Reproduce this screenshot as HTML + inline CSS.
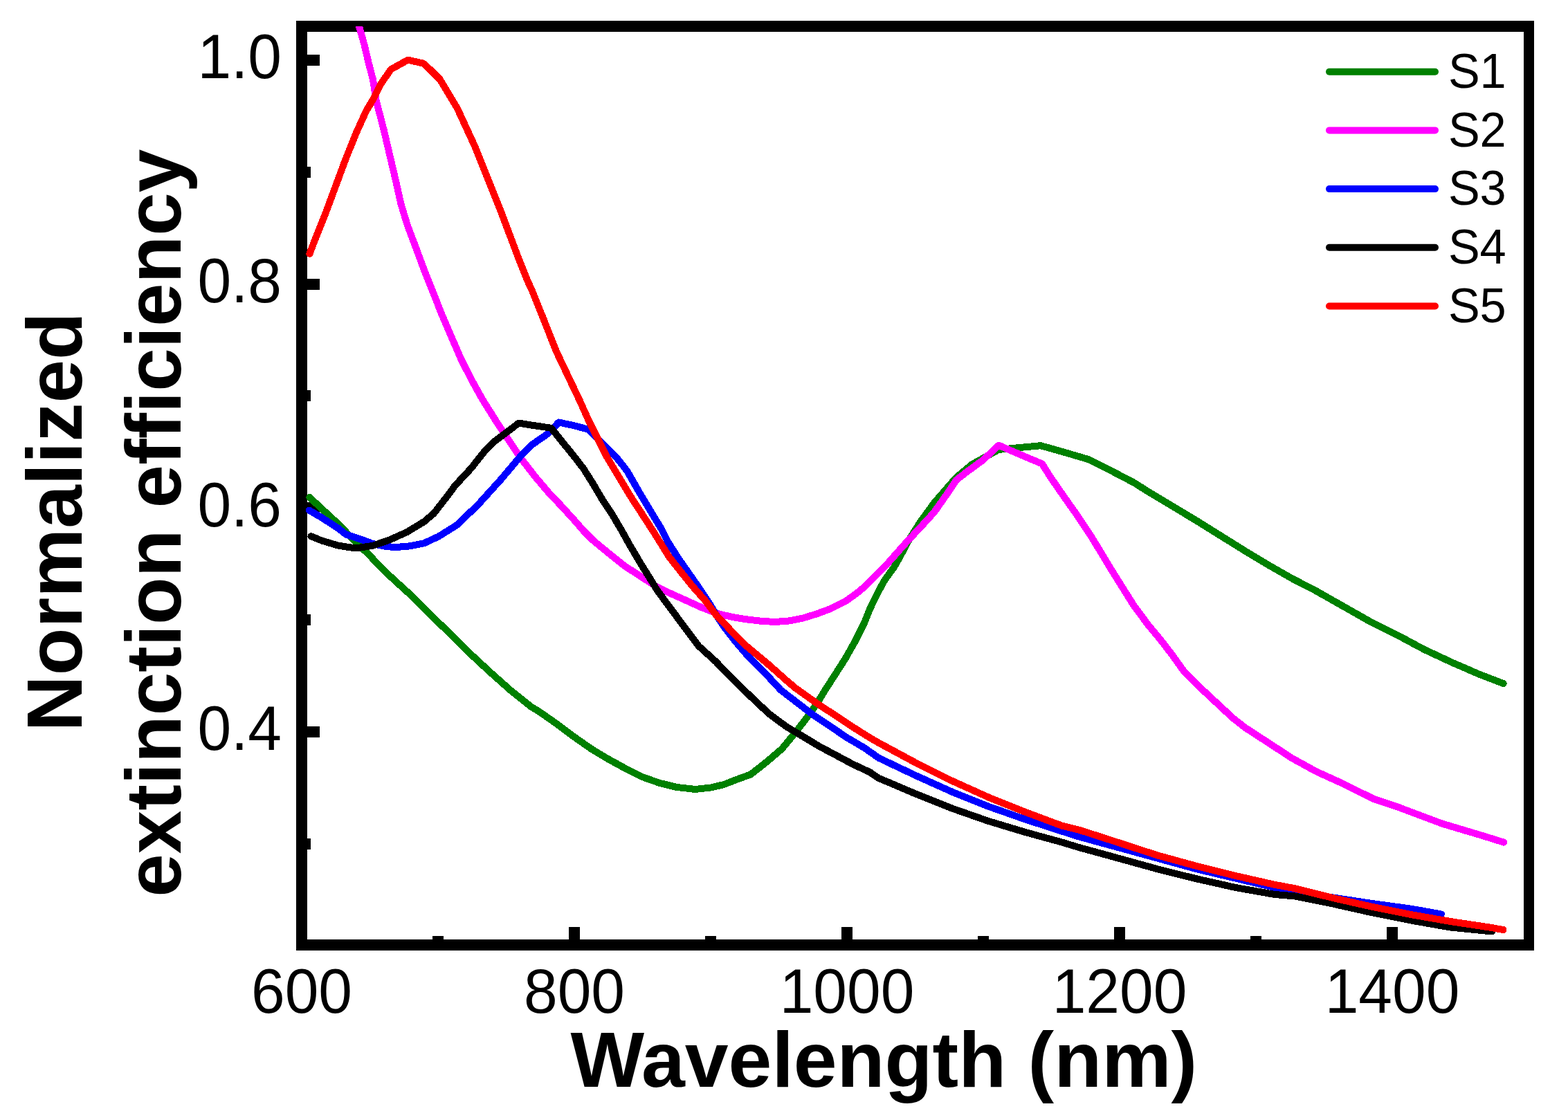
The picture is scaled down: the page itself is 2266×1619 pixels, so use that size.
<!DOCTYPE html>
<html><head><meta charset="utf-8"><title>Normalized extinction efficiency</title>
<style>
html,body{margin:0;padding:0;background:#fff;}
body{width:2266px;height:1619px;overflow:hidden;}
svg{display:block;}
text{font-family:"Liberation Sans",Arial,sans-serif;fill:#000;font-variant-ligatures:none;font-kerning:normal;}
</style></head><body>
<svg width="2266" height="1619" viewBox="0 0 2266 1619">
<defs><clipPath id="pc"><rect x="436" y="38" width="1773.5" height="1328"/></clipPath></defs>
<rect x="0" y="0" width="2266" height="1619" fill="#fff"/>
<g fill="#000">
<rect x="428" y="30" width="1789" height="16"/>
<rect x="428" y="1358" width="1789" height="16"/>
<rect x="428" y="30" width="16" height="1344"/>
<rect x="2202" y="30" width="15" height="1344"/>
<rect x="444" y="79" width="18" height="16"/>
<rect x="444" y="403" width="18" height="16"/>
<rect x="444" y="726" width="18" height="16"/>
<rect x="444" y="1050" width="18" height="16"/>
<rect x="444" y="241" width="5" height="16"/>
<rect x="444" y="564" width="5" height="16"/>
<rect x="444" y="888" width="5" height="16"/>
<rect x="444" y="1212" width="5" height="16"/>
<rect x="822" y="1340" width="16" height="18"/>
<rect x="1216" y="1340" width="16" height="18"/>
<rect x="1610" y="1340" width="16" height="18"/>
<rect x="2004" y="1340" width="16" height="18"/>
<rect x="625" y="1353" width="16" height="5"/>
<rect x="1019" y="1353" width="16" height="5"/>
<rect x="1413" y="1353" width="16" height="5"/>
<rect x="1807" y="1353" width="16" height="5"/>
</g>
<g clip-path="url(#pc)" shape-rendering="crispEdges" fill="none" stroke-width="10" stroke-linecap="round" stroke-linejoin="round">
<path d="M447.4 719.0 L464.7 735.1 L489.4 757.9 L514.1 783.9 L538.8 807.0 L538.8 808.6 L560.0 829.5 L589.6 856.5 L619.3 886.0 L648.9 914.5 L678.6 944.0 L708.2 971.5 L737.9 997.9 L767.5 1021.6 L780.0 1029.2 L804.7 1046.5 L829.4 1065.0 L854.1 1082.3 L878.9 1097.2 L903.6 1110.7 L928.3 1123.1 L953.0 1131.8 L977.7 1137.9 L1004.9 1141.0 L1027.1 1138.5 L1045.7 1134.2 L1060.9 1128.2 L1085.0 1119.4 L1107.5 1101.7 L1130.0 1082.4 L1146.0 1063.1 L1163.7 1040.6 L1179.8 1018.2 L1192.6 997.3 L1207.1 974.8 L1221.5 952.3 L1236.0 926.6 L1248.8 900.9 L1257.3 880.0 L1267.2 859.3 L1277.8 839.5 L1292.1 819.8 L1300.0 806.0 L1312.8 781.6 L1330.1 754.4 L1349.8 727.2 L1367.5 706.8 L1382.1 690.0 L1404.6 671.4 L1443.0 650.0 L1465.9 647.7 L1504.0 644.2 L1535.1 652.9 L1573.1 664.1 L1604.3 679.7 L1638.9 697.8 L1660.0 711.1 L1694.6 731.9 L1729.2 752.7 L1763.8 774.3 L1798.4 795.9 L1833.0 816.7 L1867.6 836.5 L1900.0 853.1 L1939.7 875.6 L1979.4 898.1 L2019.2 918.0 L2058.9 939.2 L2098.6 957.7 L2138.3 974.9 L2172.7 988.1" stroke="#008000"/>
<path d="M515.6 20.0 L519.0 38.0 L526.5 64.7 L533.0 92.2 L538.8 114.1 L543.8 145.9 L554.5 187.0 L564.1 227.8 L571.9 261.1 L579.3 294.4 L588.9 325.9 L601.0 358.0 L612.5 389.0 L624.5 419.0 L637.0 451.0 L653.4 489.3 L666.3 519.0 L681.2 548.6 L697.8 578.3 L716.4 607.9 L734.9 635.7 L753.5 663.5 L773.8 689.5 L794.2 713.6 L810.9 731.0 L830.0 752.0 L843.6 767.6 L857.2 781.2 L880.0 800.0 L902.2 817.8 L924.5 832.3 L946.7 846.7 L968.9 857.8 L991.2 867.8 L1013.4 877.9 L1035.7 886.7 L1060.0 892.3 L1080.2 895.5 L1100.0 897.8 L1120.3 899.0 L1140.0 897.5 L1160.5 893.5 L1180.0 887.5 L1200.1 880.1 L1222.3 868.9 L1240.0 856.1 L1250.0 847.7 L1264.8 832.9 L1279.6 818.1 L1294.5 801.3 L1309.3 784.5 L1324.1 768.7 L1338.9 752.8 L1350.0 740.5 L1369.2 713.2 L1382.1 693.9 L1396.5 682.7 L1420.6 665.0 L1443.3 643.7 L1474.6 657.2 L1506.0 670.5 L1517.8 689.2 L1536.8 716.8 L1557.6 746.2 L1574.9 772.2 L1588.7 794.7 L1604.3 820.6 L1621.6 848.3 L1638.9 875.9 L1660.0 904.2 L1677.3 925.0 L1694.6 947.5 L1711.9 971.7 L1729.2 989.0 L1755.1 1013.2 L1781.1 1037.4 L1798.4 1051.2 L1833.0 1073.7 L1867.5 1096.2 L1902.1 1115.2 L1940.0 1132.5 L1985.9 1155.2 L2021.8 1167.2 L2083.5 1190.4 L2145.3 1208.9 L2173.1 1217.6" stroke="#ff00ff"/>
<path d="M446.8 737.6 L464.7 748.1 L489.4 764.1 L500.0 772.5 L521.2 779.5 L538.8 786.0 L555.0 789.5 L570.6 791.2 L591.8 789.4 L613.0 785.2 L634.2 775.3 L660.0 759.1 L690.4 730.1 L723.8 693.2 L753.5 658.0 L768.3 643.2 L792.4 626.5 L807.4 610.5 L830.0 615.3 L850.4 620.8 L870.8 641.2 L891.2 661.6 L906.1 680.6 L922.4 709.1 L938.7 736.3 L955.1 763.5 L964.5 782.2 L980.1 806.7 L995.6 828.9 L1011.2 851.2 L1024.5 871.2 L1037.9 893.4 L1045.2 904.5 L1062.3 926.7 L1080.2 947.5 L1104.3 971.6 L1128.4 997.5 L1152.4 1016.0 L1176.5 1034.5 L1200.6 1050.5 L1224.7 1066.7 L1248.8 1080.8 L1270.0 1095.7 L1323.0 1120.9 L1375.9 1144.7 L1428.9 1165.9 L1481.8 1184.5 L1534.8 1201.7 L1560.0 1209.7 L1616.5 1225.2 L1673.0 1240.7 L1729.5 1256.3 L1786.0 1269.7 L1842.4 1283.1 L1926.5 1297.5 L1983.0 1306.0 L2039.5 1313.7 L2083.0 1321.5" stroke="#0000ff"/>
<path d="M449.5 775.2 L464.7 781.4 L489.4 788.8 L514.1 792.5 L538.8 788.8 L563.5 780.2 L588.2 769.1 L613.0 754.0 L627.1 742.0 L650.0 712.5 L657.1 702.5 L681.2 676.5 L701.6 650.6 L712.7 639.5 L749.7 611.6 L763.8 613.9 L796.5 618.8 L830.0 660.2 L843.6 677.9 L857.2 699.6 L870.8 722.7 L884.4 743.1 L898.0 766.2 L910.0 787.8 L926.7 816.0 L942.3 841.0 L950.0 853.7 L980.0 894.2 L1010.0 934.2 L1034.5 956.4 L1053.0 975.6 L1088.2 1010.1 L1112.3 1032.6 L1136.4 1050.3 L1160.5 1064.7 L1184.6 1079.2 L1208.7 1092.0 L1232.8 1104.9 L1256.9 1116.1 L1270.0 1124.9 L1323.0 1147.4 L1375.9 1168.6 L1428.9 1187.1 L1481.8 1203.0 L1534.8 1217.6 L1560.0 1225.2 L1616.5 1240.7 L1673.0 1256.3 L1729.5 1270.4 L1786.0 1283.1 L1842.4 1293.0 L1870.0 1295.3 L1926.5 1306.6 L1983.0 1319.3 L2039.5 1330.6 L2096.0 1340.5 L2156.0 1346.5" stroke="#000000"/>
<path d="M447.4 366.9 L454.8 347.6 L469.7 310.5 L484.5 270.5 L499.3 230.5 L514.2 193.4 L529.0 160.8 L538.9 144.1 L550.0 121.9 L564.8 100.4 L589.3 86.7 L611.5 91.5 L621.0 100.0 L635.7 114.7 L648.3 135.7 L660.9 156.7 L673.5 184.0 L686.1 211.3 L698.7 242.9 L711.3 274.4 L724.0 305.9 L736.6 339.5 L749.2 373.1 L761.8 404.6 L768.9 420.0 L786.7 464.4 L804.4 508.9 L838.2 580.0 L850.4 607.2 L864.0 634.4 L877.6 661.6 L893.9 688.7 L910.2 715.9 L927.9 743.1 L945.5 770.3 L966.7 804.5 L982.3 824.5 L1000.1 846.7 L1017.9 866.7 L1034.5 888.5 L1056.7 911.9 L1079.0 934.1 L1112.3 962.0 L1136.4 983.5 L1150.0 995.0 L1160.5 1002.5 L1184.6 1019.5 L1208.7 1035.0 L1232.8 1051.2 L1256.9 1066.3 L1270.0 1073.9 L1323.0 1102.4 L1375.9 1128.8 L1428.9 1152.7 L1481.8 1173.9 L1534.8 1193.7 L1560.0 1199.8 L1616.5 1218.1 L1673.0 1236.5 L1729.5 1252.0 L1786.0 1266.1 L1842.4 1278.9 L1870.0 1284.0 L1926.5 1298.1 L1983.0 1310.8 L2039.5 1322.1 L2096.0 1332.0 L2152.4 1340.5 L2172.5 1344.0" stroke="#ff0000"/>
</g>
<g font-size="87.5">
<text transform="translate(407 113.2) scale(1 1.04)" text-anchor="end">1.0</text>
<text transform="translate(407 436.9) scale(1 1.04)" text-anchor="end">0.8</text>
<text transform="translate(407 760.5) scale(1 1.04)" text-anchor="end">0.6</text>
<text transform="translate(407 1084.2) scale(1 1.04)" text-anchor="end">0.4</text>
<text transform="translate(436.0 1464.1) scale(1 1.04)" text-anchor="middle">600</text>
<text transform="translate(830.0 1464.1) scale(1 1.04)" text-anchor="middle">800</text>
<text transform="translate(1224.0 1464.1) scale(1 1.04)" text-anchor="middle">1000</text>
<text transform="translate(1618.0 1464.1) scale(1 1.04)" text-anchor="middle">1200</text>
<text transform="translate(2012.0 1464.1) scale(1 1.04)" text-anchor="middle">1400</text>
</g>
<g font-size="68.5">
<line x1="1921" y1="103.7" x2="2074" y2="103.7" stroke="#008000" stroke-width="10" stroke-linecap="round"/>
<text transform="translate(2092.9 126.8) scale(1 1.04)">S1</text>
<line x1="1921" y1="188.4" x2="2074" y2="188.4" stroke="#ff00ff" stroke-width="10" stroke-linecap="round"/>
<text transform="translate(2092.9 211.5) scale(1 1.04)">S2</text>
<line x1="1921" y1="273.1" x2="2074" y2="273.1" stroke="#0000ff" stroke-width="10" stroke-linecap="round"/>
<text transform="translate(2092.9 296.2) scale(1 1.04)">S3</text>
<line x1="1921" y1="357.8" x2="2074" y2="357.8" stroke="#000000" stroke-width="10" stroke-linecap="round"/>
<text transform="translate(2092.9 380.9) scale(1 1.04)">S4</text>
<line x1="1921" y1="442.5" x2="2074" y2="442.5" stroke="#ff0000" stroke-width="10" stroke-linecap="round"/>
<text transform="translate(2092.9 465.6) scale(1 1.04)">S5</text>
</g>
<g font-weight="bold">
<text x="824.6" y="1570.8" font-size="112.95">Wavelength (nm)</text>
<text transform="translate(118.1 754.4) rotate(-90)" text-anchor="middle" font-size="112.45">Normalized</text>
<text transform="translate(260.8 756.2) rotate(-90)" text-anchor="middle" font-size="112.45">extinction efficiency</text>
</g>
</svg>
</body></html>
